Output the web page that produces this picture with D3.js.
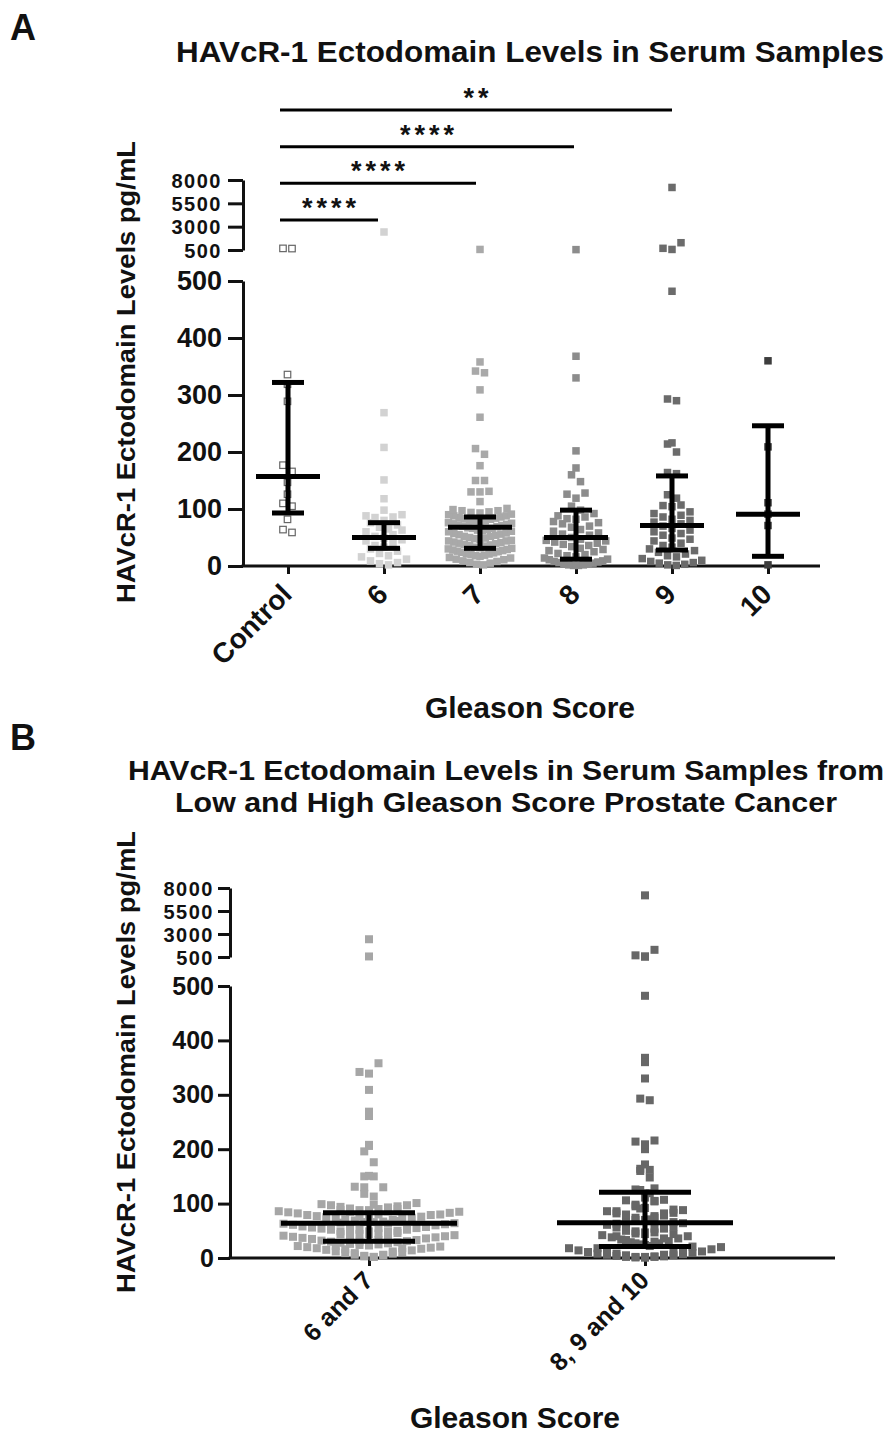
<!DOCTYPE html>
<html lang="en">
<head>
    <meta charset="UTF-8">
    <title>HAVcR-1 Ectodomain Levels</title>
    <script src="https://d3js.org/d3.v7.min.js"></script>
</head>
<body>
<style>
    body{ margin: 0; background: #fff; }
    svg text{ font-family: "Liberation Sans", Arial, sans-serif; font-weight: bold; fill: #111; }
    .domain, .tick line{ stroke: #111; stroke-width: 3; }
</style>

<script>
    // ---- data ----
    const groupsA = ["Control", "6", "7", "8", "9", "10"];
    const groupsB = ["6 and 7", "8, 9 and 10"];

    const control = [620, 600, 335, 318, 288, 176, 165, 146, 125, 109, 104, 81, 63, 58];
    const g6 = [2430, 269, 208, 151, 118, 98, 90, 88, 86, 85, 80, 76, 72, 68, 65, 63, 60,
        55, 52, 49, 46, 44, 40, 36, 33, 30, 26, 22, 18, 16, 12, 9, 6, 4, 2];
    const g7 = [560, 358, 342, 339, 309, 261, 206, 196, 176, 150, 150, 131, 130, 130, 113,
        101, 99, 97, 97, 95, 94, 93, 91, 90, 88, 88, 86, 85, 84, 83, 82,
        80, 79, 79, 77, 76, 75, 74, 73, 72, 71, 70, 69, 67, 66, 66, 64, 63, 62, 61, 60,
        58, 57, 56, 55, 54, 52, 52, 50, 49, 48, 47, 45, 44, 44, 42, 41, 40, 39, 38, 37,
        36, 35, 33, 32, 31, 30, 29, 28, 27, 26, 25, 24, 23, 22, 21, 20, 19, 18, 17,
        15, 14, 12, 11, 9, 8, 6, 5, 3, 2];
    const g8 = [540, 368, 330, 202, 172, 160, 148, 128, 126, 119, 105, 98, 92, 88, 86, 83, 82,
        78, 76, 74, 70, 68, 64, 61, 58, 56, 54, 50, 47, 45, 44, 42, 40, 38, 36, 34, 31, 29,
        27, 25, 22, 20, 18, 16, 14, 12, 11, 9, 8, 7, 6, 5, 4, 3, 2, 2, 1, 1];
    const g9 = [7200, 1280, 680, 560, 482, 293, 290, 216, 214, 200, 164, 162, 125, 119, 107,
        106, 104, 95, 92, 89, 86, 82, 80, 77, 74, 70, 66, 63, 60, 57, 54, 49, 47, 44, 40,
        36, 33, 30, 27, 24, 21, 18, 16, 13, 10, 8, 6, 5, 3, 2, 1];
    const g10 = [360, 209, 111, 91, 71, 2];

    // median and interquartile range as drawn
    const medianA = [157, 50, 68, 50, 71, 91];
    const q1A = [93, 31, 31, 12, 28, 17];
    const q3A = [322, 76, 86, 98, 158, 246];
    const medianB = [64, 65];
    const q1B = [31, 21];
    const q3B = [83, 121];

    const sigA = [["6", "****"], ["7", "****"], ["8", "****"], ["9", "**"]];

    const lowTicks = [0, 100, 200, 300, 400, 500];
    const highTicks = [500, 3000, 5500, 8000];

    const fillsA = ["#fff", "#d2d2d2", "#a9a9a9", "#8c8c8c", "#6b6b6b", "#3d3d3d"];
    const fillsB = ["#a6a6a6", "#676767"];

    const svg = d3.select("body").append("svg")
        .attr("width", 887)
        .attr("height", 1438);

    // places squares in rows, lowest value of a row in the middle
    function swarm(vals, cx, yOf, size, binH, maxW) {
        const pts = vals.map(function(v){ return {v: v, y: yOf(v)}; })
            .sort(function(a, b){ return b.y - a.y; });
        const out = [];
        let i = 0;
        while (i < pts.length) {
            const y0 = pts[i].y;
            const bin = [];
            while (i < pts.length && y0 - pts[i].y < binH) { bin.push(pts[i]); i++; }
            const n = bin.length;
            const step = Math.min(size + 1.5, maxW / n);
            bin.forEach(function(p, k){
                let off;
                if (n % 2) off = k === 0 ? 0 : (k % 2 ? -1 : 1) * Math.ceil(k / 2);
                else off = (k % 2 ? -1 : 1) * (Math.floor(k / 2) + 0.5);
                out.push({v: p.v, x: cx + off * step, y: p.y});
            });
        }
        return out;
    }

    function panel(o) {
        const g = svg.append("g");
        const x = d3.scalePoint().domain(o.groups).range(o.xRange);
        const yLow = d3.scaleLinear().domain([0, 500]).range(o.lowRange);
        const yHigh = d3.scaleLinear().domain([500, 8000]).range(o.highRange);
        const yOf = function(v){ return v <= 500 ? yLow(v) : yHigh(v); };

        // axes
        g.append("g").attr("transform", "translate(" + o.axisX + ",0)")
            .call(d3.axisLeft(yLow).tickValues(lowTicks).tickSize(o.tickLen).tickSizeOuter(0).tickPadding(o.tickPad))
            .call(function(s){ s.selectAll("text").style("font-size", o.tickFont + "px"); });
        g.append("g").attr("transform", "translate(" + o.axisX + ",0)")
            .call(d3.axisLeft(yHigh).tickValues(highTicks).tickFormat(d3.format("d"))
                .tickSize(o.tickLen).tickSizeOuter(0).tickPadding(o.tickPad))
            .call(function(s){
                s.selectAll("text").style("font-size", o.highFont + "px")
                    .style("letter-spacing", "1.5px").attr("dy", "0.36em");
            });

        g.append("line")
            .attr("x1", o.axisX - 1.5).attr("x2", o.xEnd)
            .attr("y1", yLow(0)).attr("y2", yLow(0))
            .attr("stroke", "#111").attr("stroke-width", 3);

        const xa = g.append("g").attr("transform", "translate(0," + yLow(0) + ")")
            .call(d3.axisBottom(x).tickSize(8).tickSizeOuter(0));
        xa.select(".domain").remove();
        xa.selectAll("text")
            .style("font-size", o.catFont + "px")
            .attr("text-anchor", "end")
            .attr("x", 0).attr("y", 0).attr("dy", 0)
            .attr("transform", "translate(" + o.catDx + "," + o.catDy + ") rotate(-45)");

        // points
        o.sets.forEach(function(vals, i){
            const pts = swarm(vals, x(o.groups[o.setGroup[i]]), yOf, o.size, o.binH, o.maxW);
            const open = o.fills[i] === "#fff";
            g.selectAll(null).data(pts).enter().append("rect")
                .attr("x", function(d){ return d.x - o.size / 2; })
                .attr("y", function(d){ return d.y - o.size / 2; })
                .attr("width", open ? o.size - 1 : o.size)
                .attr("height", open ? o.size - 1 : o.size)
                .attr("fill", o.fills[i])
                .attr("stroke", open ? "#666" : "none")
                .attr("stroke-width", 1.2);
        });

        // median + IQR bars
        o.groups.forEach(function(c, i){
            const cx = x(c);
            const eb = g.append("g").attr("stroke", "#000").attr("stroke-width", 5);
            eb.append("line").attr("x1", cx).attr("x2", cx).attr("y1", yLow(o.q1[i])).attr("y2", yLow(o.q3[i]));
            eb.append("line").attr("x1", cx - o.medW).attr("x2", cx + o.medW).attr("y1", yLow(o.med[i])).attr("y2", yLow(o.med[i]));
            [o.q1[i], o.q3[i]].forEach(function(q){
                eb.append("line").attr("x1", cx - o.capW).attr("x2", cx + o.capW).attr("y1", yLow(q)).attr("y2", yLow(q));
            });
        });

        // axis titles
        g.append("text")
            .attr("transform", "translate(" + o.yLabel[0] + "," + o.yLabel[1] + ") rotate(-90)")
            .attr("text-anchor", "middle")
            .attr("textLength", 462).attr("lengthAdjust", "spacingAndGlyphs")
            .style("font-size", "26px")
            .text("HAVcR-1 Ectodomain Levels pg/mL");
        g.append("text")
            .attr("x", o.xLabel[0]).attr("y", o.xLabel[1])
            .attr("text-anchor", "middle")
            .style("font-size", "30px")
            .text("Gleason Score");
        return x;
    }

    // ---- panel A ----
    const xA = panel({
        groups: groupsA, xRange: [288, 768], axisX: 243, xEnd: 820,
        lowRange: [566, 281], highRange: [250, 180],
        sets: [control, g6, g7, g8, g9, g10], setGroup: [0, 1, 2, 3, 4, 5], fills: fillsA,
        size: 7.5, binH: 8, maxW: 68, medW: 32, capW: 16,
        med: medianA, q1: q1A, q3: q3A,
        tickLen: 15, tickPad: 6,
        tickFont: 27, highFont: 20, catFont: 28, catDx: 5, catDy: 30,
        yLabel: [135, 372], xLabel: [530, 718]
    });

    svg.append("text").attr("x", 10).attr("y", 40).style("font-size", "36px").text("A");
    svg.append("text").attr("x", 530).attr("y", 62).attr("text-anchor", "middle")
        .attr("textLength", 708).attr("lengthAdjust", "spacingAndGlyphs")
        .style("font-size", "29px").text("HAVcR-1 Ectodomain Levels in Serum Samples");

    // significance brackets
    const sigY = d3.scaleLinear().domain([0, 3]).range([220, 110]);
    sigA.forEach(function(s, i){
        const x1 = xA("Control") - 8, x2 = xA(s[0]) + i * 2 - 6;
        svg.append("line").attr("x1", x1).attr("x2", x2)
            .attr("y1", sigY(i)).attr("y2", sigY(i))
            .attr("stroke", "#000").attr("stroke-width", 3);
        svg.append("text").attr("x", (x1 + x2) / 2 + 2).attr("y", sigY(i) - 3)
            .attr("text-anchor", "middle").style("font-size", "27px")
            .style("letter-spacing", "4px").text(s[1]);
    });

    // ---- panel B ----
    panel({
        groups: groupsB, xRange: [369, 645], axisX: 230, xEnd: 835,
        lowRange: [1258, 986], highRange: [957, 888],
        sets: [g6, g7, g8, g9, g10], setGroup: [0, 0, 1, 1, 1],
        fills: [fillsB[0], fillsB[0], fillsB[1], fillsB[1], fillsB[1]],
        size: 8, binH: 11, maxW: 190, medW: 88, capW: 46,
        med: medianB, q1: q1B, q3: q3B,
        tickLen: 12, tickPad: 4,
        tickFont: 25, highFont: 20, catFont: 25, catDx: 5, catDy: 24,
        yLabel: [135, 1062], xLabel: [515, 1428]
    });

    svg.append("text").attr("x", 10).attr("y", 750).style("font-size", "36px").text("B");
    svg.append("text").attr("x", 506).attr("y", 780).attr("text-anchor", "middle")
        .attr("textLength", 756).attr("lengthAdjust", "spacingAndGlyphs")
        .style("font-size", "28px").text("HAVcR-1 Ectodomain Levels in Serum Samples from");
    svg.append("text").attr("x", 506).attr("y", 812).attr("text-anchor", "middle")
        .attr("textLength", 662).attr("lengthAdjust", "spacingAndGlyphs")
        .style("font-size", "28px").text("Low and High Gleason Score Prostate Cancer");
</script>
</body>
</html>
